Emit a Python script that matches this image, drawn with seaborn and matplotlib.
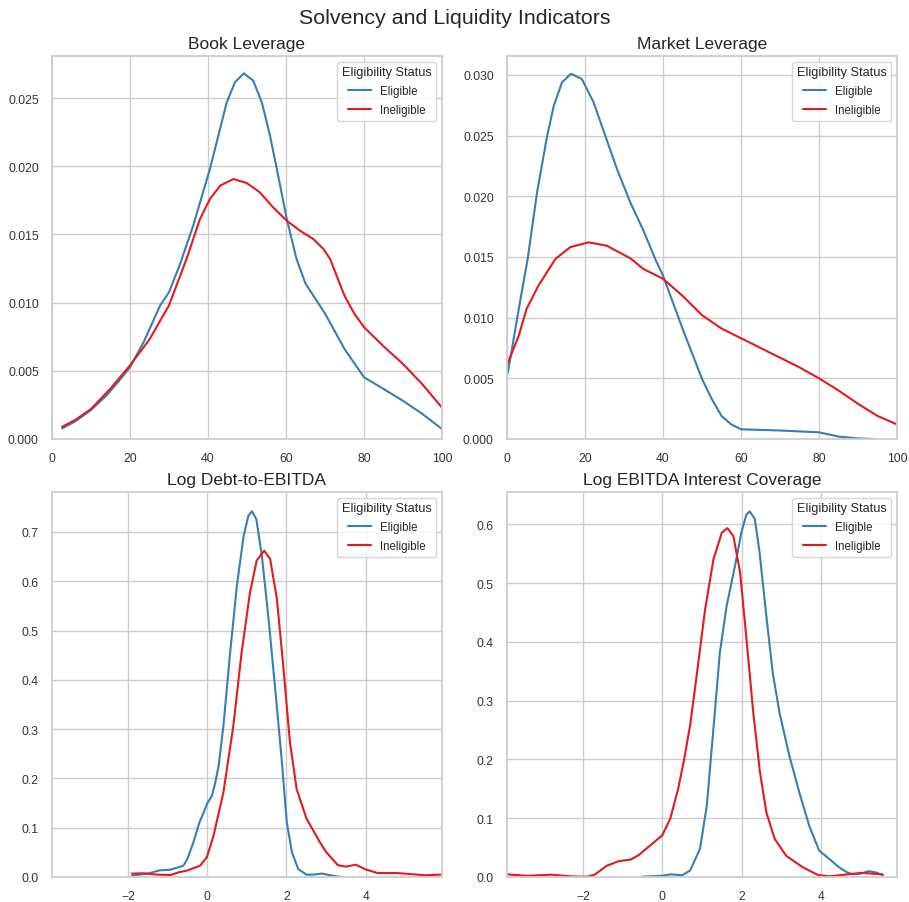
import numpy as np
import pandas as pd
import matplotlib
matplotlib.use("Agg")
import matplotlib.pyplot as plt
import seaborn as sns

# ---------------- data (density curves) ----------------
book_elig_x = [2.6, 6, 9.8, 14, 17, 20, 23.5, 27.7, 30, 32.8, 36.2, 40.5, 44.8, 46.9, 49.2, 51.6, 53.8, 55.9, 58.0, 60.2, 62.7, 65, 67.5, 70, 75, 80, 85, 90, 95, 100]
book_elig_y = [0.00078, 0.0013, 0.00208, 0.0032, 0.0042, 0.00526, 0.0071, 0.00978, 0.01076, 0.0128, 0.01564, 0.0198, 0.02468, 0.02615, 0.02681, 0.02627, 0.02468, 0.02224, 0.0193, 0.01613, 0.0132, 0.0114, 0.0103, 0.0092, 0.0066, 0.00453, 0.00367, 0.0028, 0.00183, 0.00073]
book_inel_x = [2.6, 6, 10, 15, 20, 25, 30, 34.5, 37.9, 40.5, 43.1, 46.5, 49.9, 53.3, 56.7, 60.2, 63.6, 67.0, 69.6, 71.3, 75, 77.5, 80, 85, 90, 95, 100]
book_inel_y = [0.0009, 0.0014, 0.0022, 0.0037, 0.0054, 0.0073, 0.0098, 0.0132, 0.0161, 0.0176, 0.01857, 0.01906, 0.01877, 0.01808, 0.01698, 0.0160, 0.01527, 0.01466, 0.01393, 0.0132, 0.0105, 0.0092, 0.0082, 0.0068, 0.0055, 0.0040, 0.0023]

mkt_elig_x = [0.2, 2, 3.5, 5.3, 7.7, 10.3, 12.0, 14.1, 16.4, 19.2, 22.2, 25.2, 28.2, 31.6, 35.0, 38.0, 40, 45, 50, 52.5, 55, 57.5, 60, 70, 80, 85, 90, 94]
mkt_elig_y = [0.00544, 0.0088, 0.0116, 0.01483, 0.0203, 0.02498, 0.02745, 0.02938, 0.03009, 0.02965, 0.02773, 0.02498, 0.02224, 0.0195, 0.01716, 0.01483, 0.01346, 0.0091, 0.00495, 0.0033, 0.0019, 0.0012, 0.0008, 0.0007, 0.00055, 0.0002, 0.00005, 0.0]
mkt_inel_x = [0.2, 3, 5, 8, 12.4, 16.2, 20.9, 25.6, 31.6, 35, 40, 45, 50, 55, 60, 65, 70, 75, 80, 85, 90, 95, 100]
mkt_inel_y = [0.00624, 0.0085, 0.0107, 0.0126, 0.01483, 0.0158, 0.0162, 0.01592, 0.01489, 0.0140, 0.0132, 0.0118, 0.0102, 0.0091, 0.0083, 0.0075, 0.0067, 0.0059, 0.0050, 0.0040, 0.0029, 0.0019, 0.0012]

debt_elig_x = [-1.9, -1.5, -1.2, -0.93, -0.6, -0.5, -0.35, -0.2, -0.09, 0.0, 0.12, 0.2, 0.29, 0.41, 0.58, 0.75, 0.92, 1.04, 1.13, 1.24, 1.38, 1.55, 1.71, 1.88, 2.01, 2.14, 2.30, 2.51, 2.7, 2.9, 3.2, 3.4]
debt_elig_y = [0.003, 0.007, 0.0135, 0.0148, 0.023, 0.037, 0.07, 0.11, 0.131, 0.149, 0.165, 0.19, 0.226, 0.307, 0.456, 0.591, 0.692, 0.733, 0.742, 0.726, 0.652, 0.523, 0.388, 0.239, 0.111, 0.050, 0.016, 0.0047, 0.005, 0.007, 0.002, 0.0]
debt_inel_x = [-1.9, -1.6, -1.3, -0.93, -0.7, -0.51, -0.18, -0.01, 0.16, 0.41, 0.66, 0.87, 1.08, 1.25, 1.44, 1.59, 1.76, 1.92, 2.09, 2.26, 2.51, 2.85, 3.0, 3.3, 3.5, 3.75, 4.0, 4.3, 4.8, 5.2, 5.5, 5.93]
debt_inel_y = [0.007, 0.0075, 0.005, 0.004, 0.010, 0.013, 0.023, 0.040, 0.084, 0.172, 0.307, 0.456, 0.577, 0.642, 0.662, 0.645, 0.564, 0.429, 0.273, 0.178, 0.118, 0.07, 0.051, 0.024, 0.021, 0.025, 0.0155, 0.008, 0.008, 0.0055, 0.0035, 0.005]

cov_elig_x = [-0.5, 0.0, 0.2, 0.5, 0.70, 0.95, 1.12, 1.28, 1.45, 1.62, 1.83, 1.99, 2.12, 2.2, 2.33, 2.45, 2.62, 2.78, 2.95, 3.2, 3.45, 3.7, 3.95, 4.2, 4.45, 4.65, 4.8, 5.0, 5.2, 5.4, 5.55]
cov_elig_y = [0.0005, 0.002, 0.0045, 0.003, 0.011, 0.048, 0.121, 0.246, 0.382, 0.461, 0.529, 0.586, 0.617, 0.622, 0.609, 0.552, 0.444, 0.348, 0.280, 0.206, 0.144, 0.087, 0.045, 0.031, 0.0165, 0.008, 0.0045, 0.0057, 0.010, 0.0074, 0.003]
cov_inel_x = [-3.91, -3.4, -2.8, -2.3, -1.9, -1.7, -1.4, -1.1, -0.8, -0.6, -0.3, 0.0, 0.2, 0.4, 0.55, 0.70, 0.87, 1.08, 1.29, 1.50, 1.64, 1.79, 1.96, 2.12, 2.29, 2.46, 2.62, 2.83, 3.12, 3.54, 3.92, 4.2, 4.6, 5.0, 5.3, 5.55]
cov_inel_y = [0.0045, 0.002, 0.004, 0.001, 0.0005, 0.004, 0.019, 0.027, 0.0295, 0.037, 0.054, 0.071, 0.099, 0.150, 0.20, 0.258, 0.345, 0.456, 0.541, 0.586, 0.5935, 0.580, 0.518, 0.405, 0.280, 0.178, 0.110, 0.065, 0.036, 0.0165, 0.0034, 0.001, 0.004, 0.007, 0.0057, 0.0045]

titles = ["Book Leverage", "Market Leverage", "Log Debt-to-EBITDA", "Log EBITDA Interest Coverage"]
status = ["Eligible", "Ineligible"]

panels = [
    (book_elig_x, book_elig_y, book_inel_x, book_inel_y),
    (mkt_elig_x, mkt_elig_y, mkt_inel_x, mkt_inel_y),
    (debt_elig_x, debt_elig_y, debt_inel_x, debt_inel_y),
    (cov_elig_x, cov_elig_y, cov_inel_x, cov_inel_y),
]

# ---------------- style ----------------
sns.set_theme(style="whitegrid")
plt.rcParams['font.family'] = ['Liberation Sans', 'DejaVu Sans']

palette = {"Eligible": "#377eb8", "Ineligible": "#e41a1c"}

fig = plt.figure(figsize=(9.09, 9.03), dpi=100)
W, H = 909, 903
boxes = [(52, 57, 442, 440), (507, 57, 897, 440), (52, 493, 442, 878), (507, 493, 897, 878)]
xlims = [(0, 100), (0, 100), (-3.92, 5.93), (-3.91, 5.91)]
ylims = [(0, 0.02808), (0, 0.03155), (0, 0.781), (0, 0.655)]

for i, (ex, ey, ix, iy) in enumerate(panels):
    l, t, r, b = boxes[i]
    ax = fig.add_axes([l / W, 1 - b / H, (r - l) / W, (b - t) / H])
    df = pd.DataFrame({
        "x": list(ex) + list(ix),
        "y": list(ey) + list(iy),
        "Eligibility Status": [status[0]] * len(ex) + [status[1]] * len(ix),
    })
    sns.lineplot(data=df, x="x", y="y", hue="Eligibility Status", hue_order=status,
                 palette=palette, ax=ax, linewidth=1.5, estimator=None, sort=False)
    ax.set_xlim(*xlims[i])
    ax.set_ylim(*ylims[i])
    ax.set_xlabel("")
    ax.set_ylabel("")
    ax.set_title(titles[i], fontsize=12.5)
    ax.tick_params(labelsize=8.7, colors="#333333")
    ax.legend(title="Eligibility Status", loc="upper right", fontsize=8.3, title_fontsize=9.2,
              labelspacing=0.6)
    if i >= 2:
        ax.set_xticks([-2, 0, 2, 4])

fig.suptitle("Solvency and Liquidity Indicators", fontsize=15.4, y=0.99)
fig.savefig("out.png", dpi=100)
